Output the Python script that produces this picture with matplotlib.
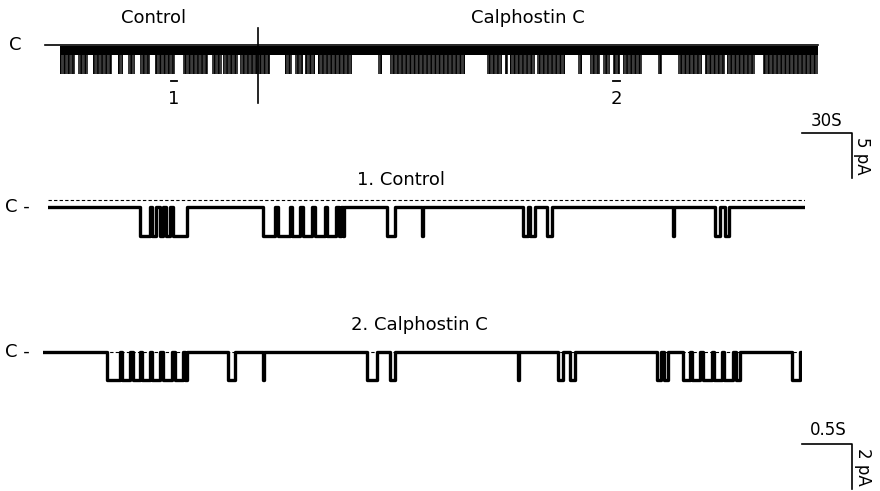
import matplotlib.pyplot as plt

plt.rcParams['font.family'] = ['DejaVu Sans']
plt.rcParams['hatch.linewidth'] = 1.0

# ---- overview recording (seconds, pA) ----
top_len = 454.8
top_amp = -3.2
top_burst_start = [0, 10.8, 19.8, 34.8, 40.8, 48, 57, 73.8, 91.2, 97.8, 108, 135, 141, 147,
                   154.8, 190.8, 198, 256.2, 267, 270, 286.2, 310.8, 318, 325.8, 331.8,
                   337.8, 358.8, 370.8, 387, 400.2, 421.8]
top_burst_end = [9, 16.8, 31.2, 37.8, 45, 54, 69, 88.8, 97.2, 106.8, 126, 139.2, 145.8, 153,
                 175.2, 193.2, 243, 265.2, 268.8, 285, 303, 313.2, 324, 330, 336,
                 349.2, 361.2, 385.2, 399, 417, 454.8]
drug_on = 118.8          # calphostin C application mark
seg_marks = [(66.6, 70.2, '1'), (331.8, 336.0, '2')]

# ---- 1. Control, expanded (seconds, pA) ----
ctrl_len = 7.57
ctrl_amp = -1.3
ctrl_open_start = [0.92, 1.04, 1.12, 1.18, 1.25, 2.15, 2.30, 2.44, 2.55, 2.67, 2.79, 2.91,
                   2.945, 3.39, 3.735, 4.75, 4.82, 4.99, 6.245, 6.67, 6.77]
ctrl_open_end = [1.02, 1.08, 1.15, 1.22, 1.39, 2.27, 2.42, 2.52, 2.64, 2.77, 2.88, 2.93,
                 2.955, 3.47, 3.745, 4.80, 4.87, 5.04, 6.255, 6.72, 6.81]

# ---- 2. Calphostin C, expanded (seconds, pA) ----
calph_len = 7.59
calph_amp = -1.25
calph_open_start = [0.64, 0.79, 0.90, 0.99, 1.09, 1.20, 1.32, 1.42, 1.85, 2.195, 3.24, 3.47,
                    4.745, 5.15, 5.27, 6.14, 6.21, 6.40, 6.49, 6.60, 6.71, 6.81, 6.93, 7.49]
calph_open_end = [0.77, 0.87, 0.97, 1.07, 1.17, 1.29, 1.40, 1.44, 1.92, 2.205, 3.34, 3.52,
                  4.755, 5.20, 5.32, 6.18, 6.25, 6.47, 6.57, 6.69, 6.79, 6.90, 6.97, 7.57]


def step_trace(starts, ends, length, amp):
    t, cur = [0.0], [0.0]
    for s, e in zip(starts, ends):
        t += [s, s, e, e]
        cur += [0, amp, amp, 0]
    t.append(length)
    cur.append(0)
    return t, cur


fig = plt.figure(figsize=(8.8, 4.91), dpi=100)


def px_axes(x0, x1, y0, y1):
    ax = fig.add_axes([x0 / 880, 1 - y1 / 491, (x1 - x0) / 880, (y1 - y0) / 491])
    ax.set_axis_off()
    return ax


fs = 13

# overview trace
ax0 = px_axes(60, 818, 20, 110)
ax0.set_xlim(0, top_len)
ax0.set_ylim(-65 / 9, 25 / 9)
ax0.plot([-9, top_len], [0, 0], color='k', lw=1.2, clip_on=False)
for s, e in zip(top_burst_start, top_burst_end):
    ax0.fill_between([s, e], -0.1, top_amp, facecolor='#3c3c3c', edgecolor='k',
                     hatch='||||', lw=0)
ax0.fill_between([0, top_len], -0.1, -1.1, color='k', lw=0)
ax0.plot([drug_on, drug_on], [1.89, -6.44], color='k', lw=1.2, clip_on=False)
for s, e, lab in seg_marks:
    ax0.plot([s, e], [-4.0, -4.0], color='k', lw=1.3)
    ax0.text((s + e) / 2, -6.0, lab, ha='center', va='center', fontsize=fs)
ax0.text(-27, 0, 'C', ha='center', va='center', fontsize=fs, clip_on=False)
ax0.text(56, 3.0, 'Control', ha='center', va='center', fontsize=fs, clip_on=False)
ax0.text(281, 3.0, 'Calphostin C', ha='center', va='center', fontsize=fs, clip_on=False)
# 30 s / 5 pA scale bar
ax0.plot([445.2, 475.2, 475.2], [-9.78, -9.78, -14.78], color='k', lw=1.2, clip_on=False)
ax0.text(460, -8.4, '30S', ha='center', va='center', fontsize=12, clip_on=False)
ax0.text(481.5, -12.3, '5 pA', ha='center', va='center', rotation=-90, fontsize=12,
         clip_on=False)

# 1. Control
ax1 = px_axes(48, 805, 170, 250)
ax1.set_xlim(0, ctrl_len)
ax1.set_ylim(-43 / 22.5, 37 / 22.5)
ax1.plot([0, ctrl_len], [0.3, 0.3], color='k', lw=0.8, ls=(0, (3, 2)))
t, cur = step_trace(ctrl_open_start, ctrl_open_end, ctrl_len, ctrl_amp)
ax1.plot(t, cur, color='k', lw=2.4)
ax1.text(-0.18, 0, 'C -', ha='right', va='center', fontsize=fs, clip_on=False)
ax1.text(3.53, 1.2, '1. Control', ha='center', va='center', fontsize=fs, clip_on=False)

# 2. Calphostin C
ax2 = px_axes(43, 802, 315, 395)
ax2.set_xlim(0, calph_len)
ax2.set_ylim(-43 / 22.5, 37 / 22.5)
ax2.plot([0, calph_len], [0, 0], color='k', lw=0.8, ls=(0, (3, 2)))
t, cur = step_trace(calph_open_start, calph_open_end, calph_len, calph_amp)
ax2.plot(t, cur, color='k', lw=2.4)
ax2.text(-0.13, 0, 'C -', ha='right', va='center', fontsize=fs, clip_on=False)
ax2.text(3.76, 1.2, '2. Calphostin C', ha='center', va='center', fontsize=fs, clip_on=False)
# 0.5 s / 2 pA scale bar
ax2.plot([7.59, 8.09, 8.09], [-4.09, -4.09, -6.09], color='k', lw=1.2, clip_on=False)
ax2.text(7.85, -3.45, '0.5S', ha='center', va='center', fontsize=12, clip_on=False)
ax2.text(8.2, -5.1, '2 pA', ha='center', va='center', rotation=-90, fontsize=12,
         clip_on=False)

fig.savefig('out.png', dpi=100, facecolor='white')
